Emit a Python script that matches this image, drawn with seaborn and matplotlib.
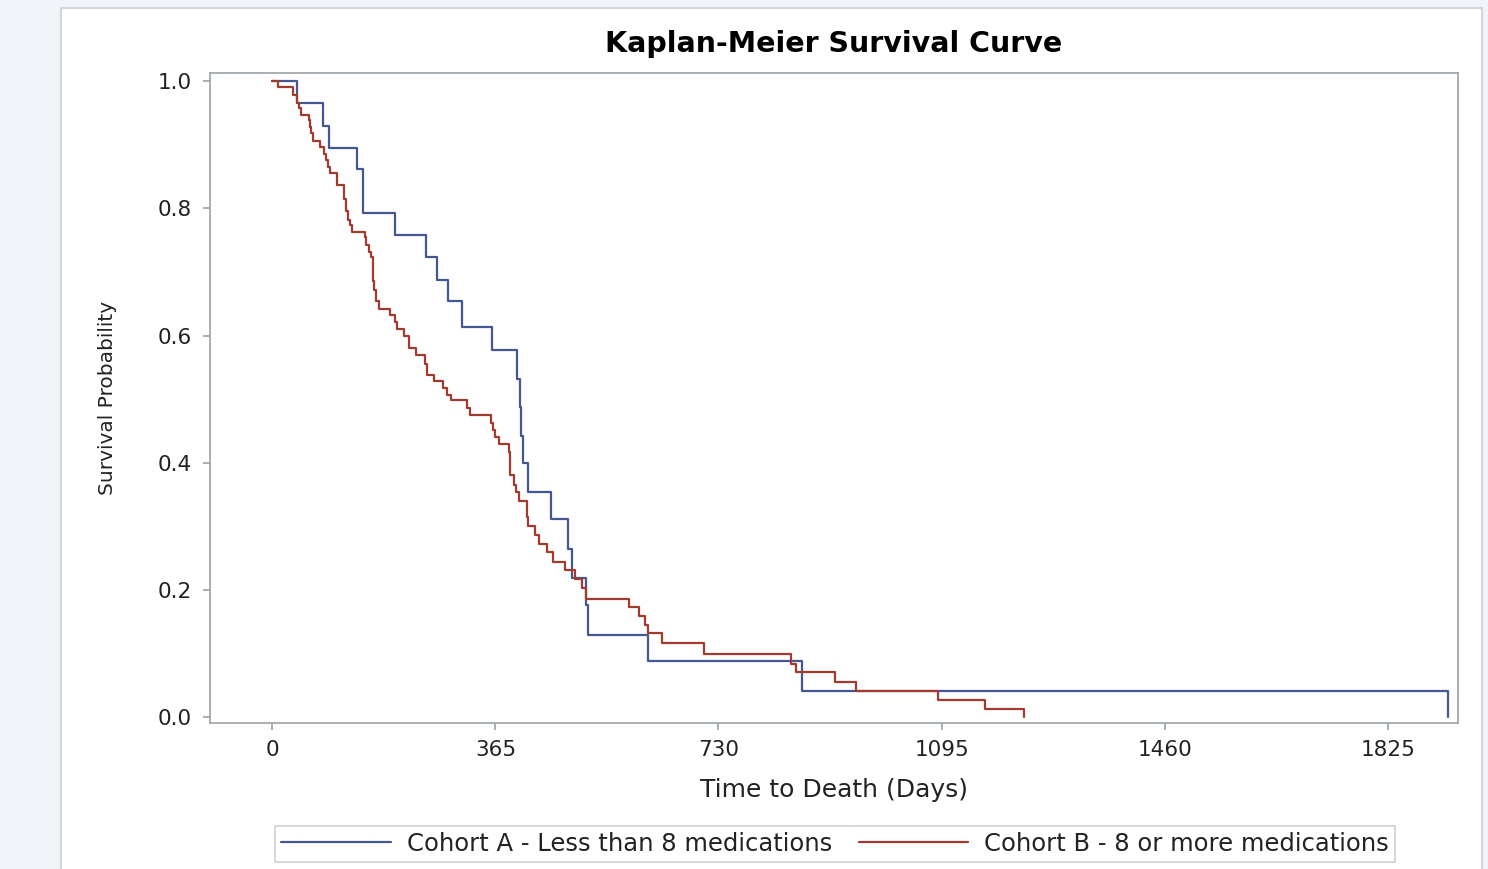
import matplotlib
matplotlib.use("Agg")
import matplotlib.pyplot as plt
import seaborn as sns
import pandas as pd
from matplotlib.patches import Rectangle

# ---- data ----
cohorts = ["Cohort A - Less than 8 medications", "Cohort B - 8 or more medications"]

blue_days = [0, 40, 83, 92, 139, 148, 201, 252, 269, 288, 310, 360, 400, 405, 407,
             410, 418, 456, 484, 491, 514, 517, 615, 866, 1923]
blue_surv = [1.0, 0.965, 0.929, 0.895, 0.861, 0.792, 0.758, 0.724, 0.688, 0.655,
             0.614, 0.578, 0.531, 0.488, 0.442, 0.400, 0.354, 0.311, 0.265, 0.219,
             0.176, 0.130, 0.088, 0.041, 0.0]

red_days = [0, 10, 33, 40, 44, 47, 60, 62, 64, 67, 78, 85, 87, 91, 94, 106, 117, 120,
            124, 127, 131, 151, 154, 158, 162, 165, 167, 170, 174, 192, 200, 204, 215,
            224, 235, 249, 253, 264, 279, 285, 292, 318, 324, 358, 361, 364, 371, 387,
            389, 396, 399, 404, 416, 418, 429, 437, 449, 459, 479, 495, 506, 514, 584,
            600, 609, 615, 637, 707, 848, 857, 920, 955, 1089, 1166, 1230]
red_surv = [1.0, 0.990, 0.978, 0.965, 0.957, 0.947, 0.939, 0.928, 0.918, 0.906,
            0.896, 0.886, 0.876, 0.865, 0.855, 0.836, 0.815, 0.795, 0.782, 0.774,
            0.763, 0.755, 0.742, 0.731, 0.724, 0.686, 0.671, 0.655, 0.641, 0.632,
            0.622, 0.610, 0.599, 0.581, 0.569, 0.556, 0.538, 0.529, 0.517, 0.507,
            0.498, 0.486, 0.475, 0.462, 0.452, 0.441, 0.429, 0.417, 0.380, 0.365,
            0.354, 0.340, 0.314, 0.300, 0.287, 0.273, 0.259, 0.244, 0.231, 0.217,
            0.203, 0.186, 0.173, 0.159, 0.145, 0.132, 0.116, 0.099, 0.084, 0.071,
            0.056, 0.041, 0.027, 0.013, 0.0]

x_ticks = [0, 365, 730, 1095, 1460, 1825]
y_ticks = [0.0, 0.2, 0.4, 0.6, 0.8, 1.0]

title = "Kaplan-Meier Survival Curve"
x_label = "Time to Death (Days)"
y_label = "Survival Probability"

df = pd.concat([
    pd.DataFrame({"Time": blue_days, "Survival": blue_surv, "Cohort": cohorts[0]}),
    pd.DataFrame({"Time": red_days, "Survival": red_surv, "Cohort": cohorts[1]}),
], ignore_index=True)

# ---- style ----
sns.set_style("white")
plt.rcParams['font.family'] = ['DejaVu Sans']

BLUE = "#445694"
RED = "#A23A2E"
AXCOL = "#a3a8ad"
TXT = "#222222"

W, H = 1488, 869
fig = plt.figure(figsize=(W / 100, H / 100), dpi=100, facecolor="#f2f3f8")
panel = Rectangle((61 / W, -0.02), (1482 - 61) / W, 1.02 - 8 / H,
                  transform=fig.transFigure, facecolor="white",
                  edgecolor="#d2d5da", lw=1.5, zorder=-10)
fig.patches.append(panel)

ax = fig.add_axes([210 / W, 1 - 723 / H, 1248 / W, 650 / H])
ax.set_facecolor("white")
ax.set_zorder(1)

sns.lineplot(data=df, x="Time", y="Survival", hue="Cohort", hue_order=cohorts,
             palette=[BLUE, RED], drawstyle="steps-post", estimator=None,
             sort=False, lw=1.6, ax=ax)

ax.set_xlim(-102, 1940)
ax.set_ylim(-0.009, 1.0126)
ax.set_xticks(x_ticks)
ax.set_xticklabels([str(v) for v in x_ticks])
ax.set_yticks(y_ticks)
ax.set_yticklabels([f"{v:.1f}" for v in y_ticks])

for s in ax.spines.values():
    s.set_visible(True)
    s.set_color(AXCOL)
    s.set_linewidth(1.3)

ax.tick_params(axis="both", which="major", direction="out", length=5, width=1.3,
               color=AXCOL, labelsize=15.5, labelcolor=TXT,
               bottom=True, left=True, top=False, right=False)
ax.tick_params(axis="x", pad=7)
ax.tick_params(axis="y", pad=8)

ax.set_title(title, fontsize=20.5, fontweight="bold", color="black", pad=15)
ax.set_xlabel(x_label, fontsize=18, color=TXT)
ax.set_ylabel(y_label, fontsize=14.5, color=TXT)
ax.xaxis.set_label_coords(0.5, (723 - 778) / 650)
ax.xaxis.label.set_va("top")
ax.yaxis.set_label_coords((117 - 210) / 1248, 0.5)

handles, labels = ax.get_legend_handles_labels()
if ax.get_legend() is not None:
    ax.get_legend().remove()
leg = fig.legend(handles, labels, loc="center",
                 bbox_to_anchor=(835 / W, 1 - 844 / H), ncol=2, frameon=True,
                 fancybox=False, edgecolor="#c8cacc", facecolor="white",
                 fontsize=17.5, handlelength=4.5, handletextpad=0.65,
                 columnspacing=1.1, borderpad=0.25, borderaxespad=0)
leg.get_frame().set_linewidth(1.3)
for t in leg.get_texts():
    t.set_color(TXT)

fig.savefig("out.png", dpi=100, facecolor=fig.get_facecolor())
